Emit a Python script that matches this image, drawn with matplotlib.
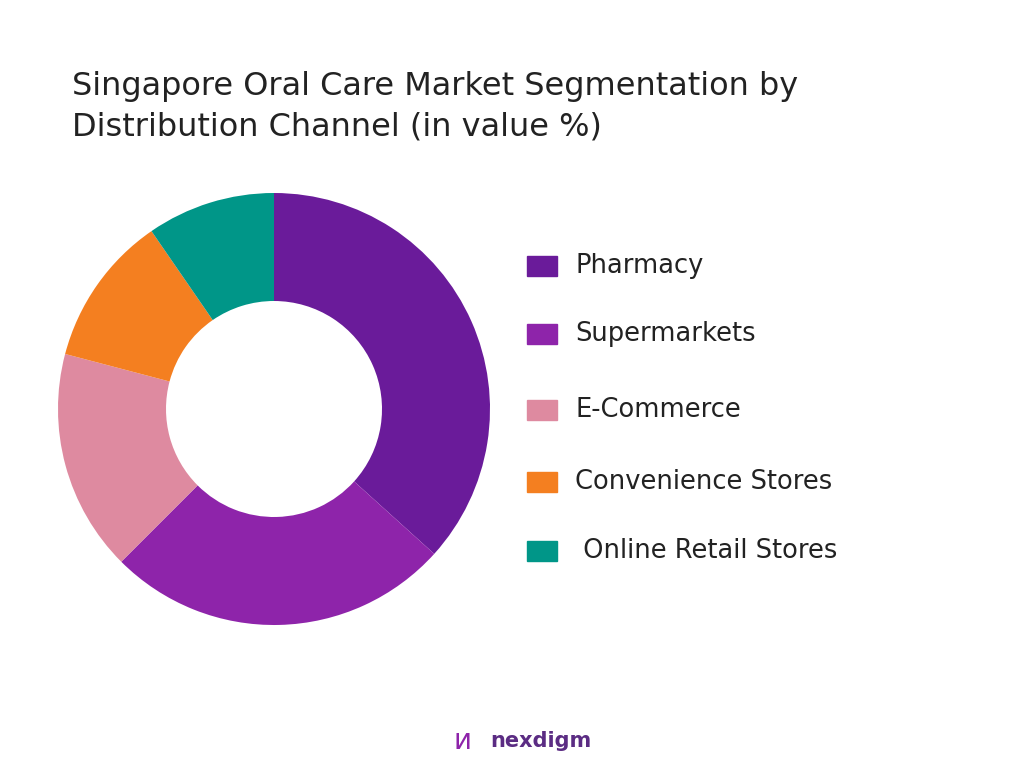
import matplotlib
matplotlib.use("Agg")
import matplotlib.pyplot as plt
from matplotlib.patches import Rectangle

categories = ["Pharmacy", "Supermarkets", "E-Commerce", "Convenience Stores", " Online Retail Stores"]
values = [36.7, 25.8, 16.6, 11.3, 9.6]
colors = ["#6A1B9A", "#8E24AA", "#DE8AA0", "#F47F20", "#009688"]

plt.rcParams['font.family'] = ['DejaVu Sans']
fig = plt.figure(figsize=(10.24, 7.68), dpi=100)
fig.text(0.070, 1 - 107/768, "Singapore Oral Care Market Segmentation by\nDistribution Channel (in value %)",
         fontsize=23, color="#222222", va="center", ha="left", linespacing=1.4)

ax = fig.add_axes([274/1024 - 216/1024, 1 - (409+216)/768, 432/1024, 432/768])
ax.pie(values, colors=colors, startangle=90, counterclock=False, radius=1,
       wedgeprops=dict(width=0.5, edgecolor="none"))
ax.set_xlim(-1, 1); ax.set_ylim(-1, 1)
ax.set_aspect("equal")
ax.axis("off")

ys = [266, 334, 410, 482, 551]
for cat, col, y in zip(categories, colors, ys):
    fig.patches.append(Rectangle((527/1024, 1 - (y+10)/768), 30/1024, 20/768,
                                 transform=fig.transFigure, color=col))
    fig.text(575/1024, 1 - y/768, cat, fontsize=18.5, va="center", ha="left", color="#222222")

fig.text(490/1024, 1 - 741/768, "nexdigm", fontsize=15, fontweight="bold",
         color="#5B2C83", va="center", ha="left")
fig.text(462/1024, 1 - 741/768, "ᴎ", fontsize=20, color="#8E24AA", va="center", ha="center")
fig.savefig("out.png", dpi=100, facecolor="white")
